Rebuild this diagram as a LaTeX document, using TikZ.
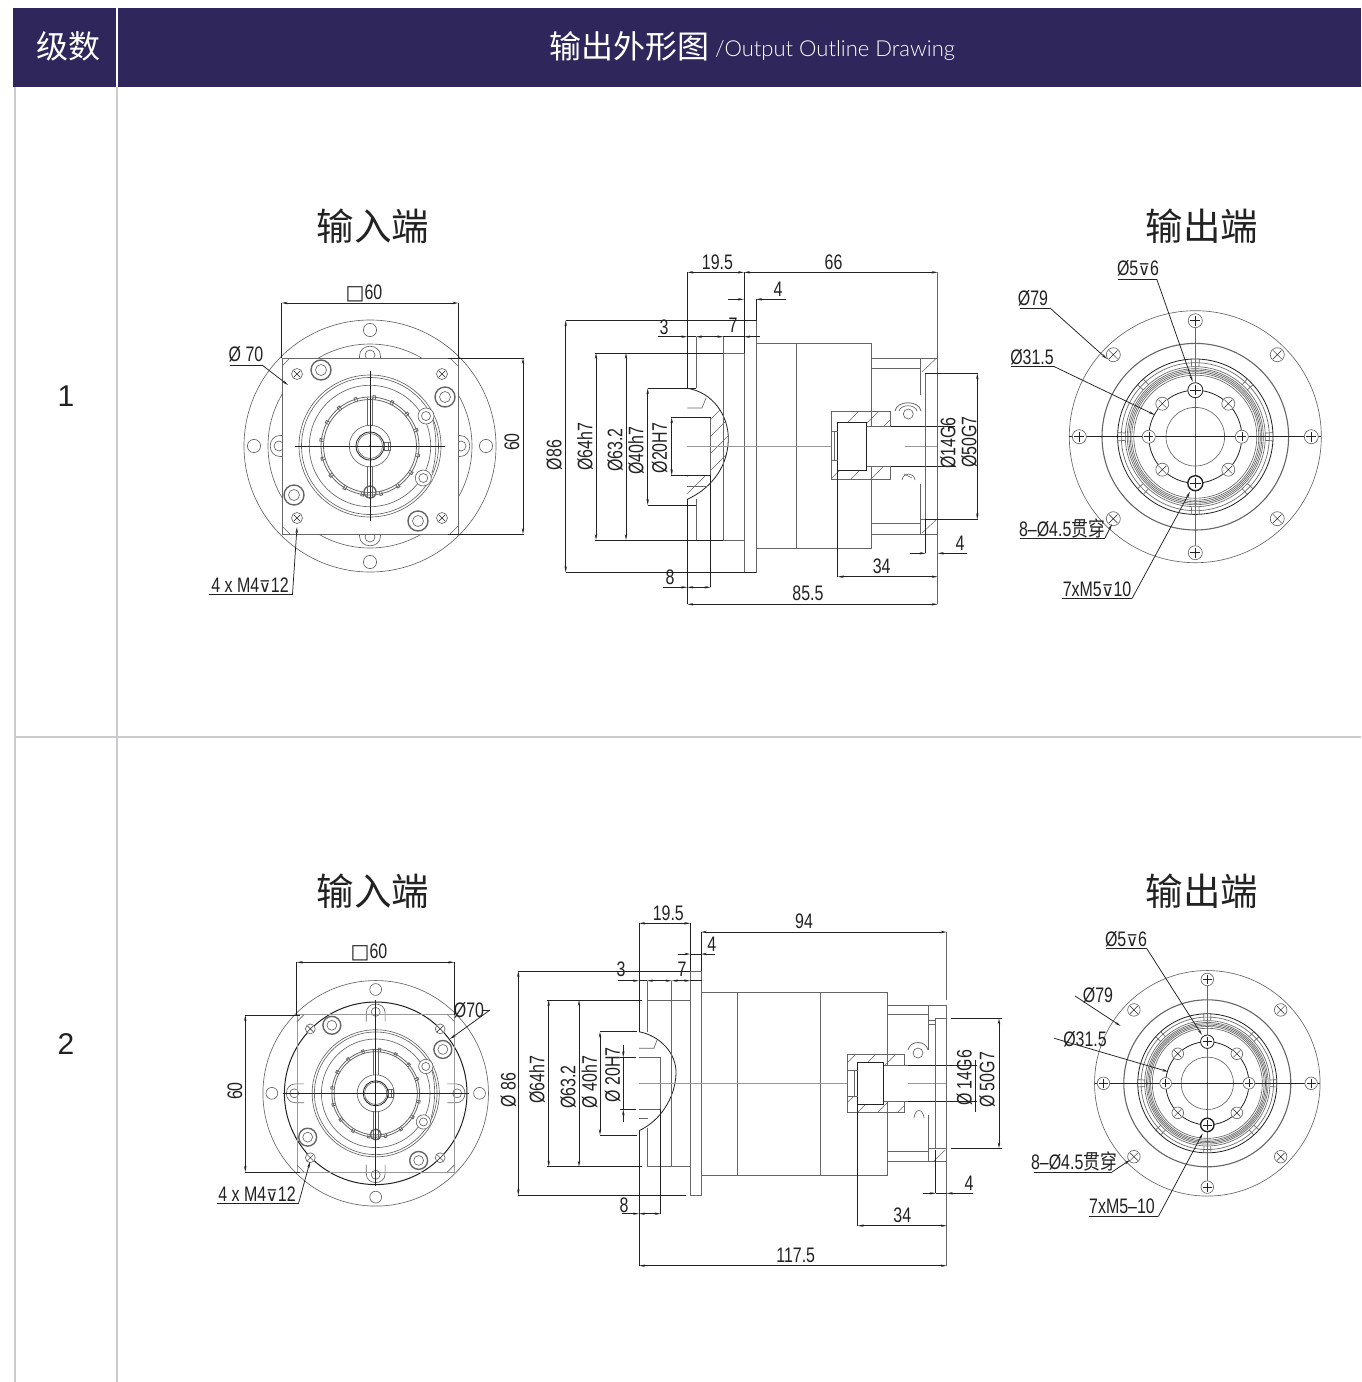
\documentclass[tikz,border=0pt]{standalone}
\usepackage{fontspec}
\usetikzlibrary{arrows.meta}
\setmainfont{Liberation Sans}
\newfontfamily\dimf[FakeStretch=0.76]{Liberation Sans}
\newfontfamily\symf{DejaVu Sans}
\newfontfamily\cjkf{Noto Sans CJK SC}
\newfontfamily\cjkdim[FakeStretch=0.8]{Noto Sans CJK SC}
\newfontfamily\headf{Lato Light}
\definecolor{headbg}{HTML}{2F265C}
\definecolor{gridc}{HTML}{CBCBCF}
\definecolor{dk}{HTML}{222222}
\definecolor{md}{HTML}{666666}
\definecolor{lt}{HTML}{999999}
\newcommand{\dep}{{\symf\fontsize{16}{16}\selectfont ⊽}}
\tikzset{
  x=1pt,y=-1pt,
  lab/.style={font=\dimf\fontsize{21}{21}\selectfont,text=dk,inner sep=0pt,anchor=center},
  title/.style={font=\cjkf\fontsize{37.5}{37.5}\selectfont,text=dk,inner sep=0pt},
  dl/.style={draw=dk,line width=0.75pt},
  dim/.style={dl,{Stealth[length=6pt,width=2.4pt]}-{Stealth[length=6pt,width=2.4pt]}},
  arr/.style={dl,-{Stealth[length=6pt,width=2.4pt]}},
  ra/.style={dl,{Stealth[length=6pt,width=2.4pt]}-},
  ex/.style={draw=dk,line width=0.65pt},
  thin g/.style={draw=md,line width=0.65pt},
  thin l/.style={draw=lt,line width=0.5pt},
  mid/.style={draw=dk,line width=0.8pt},
  fat/.style={draw=dk,line width=1.4pt},
  hat/.style={draw=md,line width=0.5pt},
}
% small tapped hole with a cross
\newcommand{\xhole}[3]{\begin{scope}[shift={(#1,#2)}]
  \fill[white] (0,0) circle[radius=#3];
  \draw[thin g] (0,0) circle[radius=#3];
  \draw[mid,line width=.5pt] (-.6*#3,-.6*#3) -- (.6*#3,.6*#3) (-.6*#3,.6*#3) -- (.6*#3,-.6*#3);
\end{scope}}
\newcommand{\phole}[4][thin g]{\begin{scope}[shift={(#2,#3)}]
  \fill[white] (0,0) circle[radius=#4];
  \draw[#1] (0,0) circle[radius=#4];
  \draw[mid,line width=.6pt] (-.7*#4,0) -- (.7*#4,0) (0,-.7*#4) -- (0,.7*#4);
\end{scope}}
\newcommand{\screw}[2]{\begin{scope}[shift={(#1,#2)}]
  \fill[white] (0,0) circle[radius=10];
  \draw[fat,draw=md] (0,0) circle[radius=10];
  \draw[thin g] (0,0) circle[radius=5.5];
\end{scope}}
% input end view: cx cy scale squarefill crosshalf
\newcommand{\inview}[5]{\begin{scope}[shift={(#1,#2)},scale=#3]
  \draw[thin g] (0,0) circle[radius=126];
  \foreach \a in {0,90,180,270}{
    \draw[thin g] (\a:116) circle[radius=6.6];
    \begin{scope}[rotate=\a]
      \draw[thin g] (80,-10.5) -- (90,-10.5) .. controls (103,-10.5) and (103,10.5) .. (90,10.5) -- (80,10.5);
      \draw[thin g] (91,0) circle[radius=5];
    \end{scope}}
  #4
  \draw[thin g] (-88,-80) -- (-80,-88) (88,-80) -- (80,-88) (-88,80) -- (-80,88) (88,80) -- (80,88);
  \foreach \r in {71,68.5,60.7}{\draw[thin g] (0,0) circle[radius=\r];}
  \draw[mid,draw=md] (0,0) circle[radius=49];
  \draw[mid,draw=md] (0,0) circle[radius=46.5];
  \foreach \a in {11,33,...,360}{\draw[mid,draw=md] (\a-1.5:46.5) -- (\a-1.5:50.5) -- (\a+1.5:50.5) -- (\a+1.5:46.5);}
  \draw[thin g] (0,0) circle[radius=20.7];
  \draw[mid] (0,0) circle[radius=14];
  \draw[thin g] (0,0) circle[radius=12.5];
  \draw[thin g] (14,-4) rectangle (20,4);
  \draw[thin g] (18,-4) -- (18,4);
  \draw[thin g] (-2.5,-48) -- (-2.5,-20) (2.5,-48) -- (2.5,-20) (-2.5,20) -- (-2.5,46) (2.5,20) -- (2.5,46);
  \foreach \p/\q in {56/-30,53.3/32}{
    \fill[white] (\p,\q) circle[radius=8];
    \draw[thin g] (\p,\q) circle[radius=8];
    \draw[thin g] (\p,\q) circle[radius=4.5];}
  \draw[thin g] (63,-25) .. controls (67,-9) and (67,9) .. (62,27);
  \draw[fat,draw=md] (0,46) circle[radius=6];
  \draw[thin g] (-2.5,40) -- (-2.5,52) (2.5,40) -- (2.5,52);
  \screw{-49}{-76} \screw{75}{-49} \screw{48}{75} \screw{-76}{49}
  \xhole{-73}{-72}{5.5} \xhole{72}{-72}{5.5} \xhole{-73}{72}{5.5} \xhole{72}{72}{5.5}
  \draw[mid] (-#5,0) -- (#5,0) (0,-#5) -- (0,#5);
  \fill[dk] (0,0) circle[radius=1];
\end{scope}}
% output end view
\newcommand{\outview}[3]{\begin{scope}[shift={(#1,#2)},scale=#3]
  \draw[thin g] (0,0) circle[radius=126];
  \draw[fat,draw=md,line width=1.1pt] (0,0) circle[radius=93.3];
  \draw[mid] (0,0) circle[radius=77.7];
  \foreach \r in {70,68,66.5,65,63.5,61.5}{\draw[thin g] (0,0) circle[radius=\r];}
  \draw[thin g] (0,0) circle[radius=74];
  \foreach \a in {0,45,...,315}{\draw[thin g] (\a-3:70) -- (\a-3:77.7) (\a+3:70) -- (\a+3:77.7);}
  \draw[mid] (0,0) circle[radius=46.5];
  \draw[thin g] (0,0) circle[radius=29.3];
  \draw[dk,line width=1pt] (-126,0) -- (126,0);
  \draw[md,line width=1.4pt] (0,-116) -- (0,116);
  \phole{-116}{0}{7} \phole{116}{0}{7} \phole{0}{-116}{7} \phole{0}{116}{7}
  \xhole{-82}{-82}{7} \xhole{82}{-82}{7} \xhole{-82}{82}{7} \xhole{82}{82}{7}
  \phole{-46.5}{0}{6.5} \phole{46.5}{0}{6.5}
  \phole[mid]{0}{-46.5}{7.5} \phole[fat]{0}{46.5}{7.5}
  \xhole{-33}{-33}{6.5} \xhole{33}{-33}{6.5} \xhole{-33}{33}{6.5} \xhole{33}{33}{6.5}
  \fill[dk] (0,0) circle[radius=1];
\end{scope}}
\begin{document}
\begin{tikzpicture}
\useasboundingbox (0,0) rectangle (1361,1382);
\fill[white] (0,0) rectangle (1361,1382);
% table
\fill[headbg] (13,8) rectangle (1361,87);
\draw[white,line width=2pt] (117,8) -- (117,87);
\draw[gridc,line width=2.4pt] (15,87) -- (15,1382) (117,87) -- (117,1382) (15,737) -- (1361,737);
\node[font=\cjkf\fontsize{32}{32}\selectfont,text=white,inner sep=0pt] (h1) at (68,46) {级数};
\node[font=\cjkf\fontsize{32}{32}\selectfont,text=white,inner sep=0pt] (h2) at (629,46) {输出外形图};
\node[font=\headf\fontsize{22}{22}\selectfont,text=white,inner sep=0pt] (h3) at (835,51) {/Output Outline Drawing};
\node[font=\fontsize{30}{30}\selectfont,text=dk,inner sep=0pt] (n1) at (66,396) {1};
\node[font=\fontsize{30}{30}\selectfont,text=dk,inner sep=0pt] (n2) at (66,1044) {2};
\node[title] (t1) at (373,226) {输入端};
\node[title] (t2) at (1202,226) {输出端};
\node[title] (t3) at (373,891) {输入端};
\node[title] (t4) at (1202,891) {输出端};

%% ===== Stage 1 input =====
\inview{370}{446}{1}{%
  \draw[thin g] (0,0) circle[radius=102];
  \filldraw[fill=white,draw=md,line width=.65pt] (-88,-88) rectangle (88,88);}{75}
\node[lab] (a1) at (364,293) {{\symf\fontsize{20}{20}\selectfont □}60};
\draw[dim] (281.7,303) -- (458.3,303);
\draw[ex] (281.7,303) -- (281.7,358) (458.3,303) -- (458.3,358);
\node[lab] (a2) at (246,354) {Ø 70};
\draw[dl] (230,365) -- (262,365);
\draw[arr] (262,365) -- (288,385);
\node[lab,rotate=90] (a3) at (512,442) {60};
\draw[dim] (523,358) -- (523,534);
\draw[ex] (448,358) -- (524,358) (448,534) -- (524,534);
\node[lab] (a4) at (250,585) {4 x M4\dep 12};
\draw[dl] (209,594.5) -- (292.5,594.5);
\draw[arr] (292.5,594.5) -- (297,527);

%% ===== Stage 1 side =====
% dome hatch
\begin{scope}
 \clip (687.3,388.3) .. controls (712,392) and (729,415) .. (728.3,440) .. controls (727.5,470) and (708,490) .. (687.3,499.3) -- cycle;
 \foreach \k in {0,17,...,170}{\draw[hat] (620+\k,510) -- (620+\k+130,380);}
\end{scope}
\fill[white] (687.3,417.3) rectangle (710.7,475.3);
\fill[white] (687.3,391) rectangle (704,408);
\draw[thin g] (687.3,408) -- (702,408) -- (706,398);
\draw[thin g] (687.3,486.7) -- (706,486.7);
\draw[mid] (687.3,388.3) .. controls (712,392) and (729,415) .. (728.3,440) .. controls (727.5,470) and (708,490) .. (687.3,499.3);
\draw[thin g] (687.3,417.3) -- (710.7,417.3) -- (710.7,475.3) -- (687.3,475.3);
% housing
\draw[thin g] (744,320.3) rectangle (756,572.3);
\draw[thin g] (756,343.7) rectangle (871.7,548.7);
\draw[mid,draw=md] (796.7,343.7) -- (796.7,548.7);
\draw[thin g] (696,353) -- (744,353) -- (744,540) -- (696,540);
\draw[thin g] (723.3,336.7) -- (723.3,540);
\draw[thin g] (696,336.7) -- (696,388.3) (696,499) -- (696,540);
% centre line
\draw[thin l] (687.3,446.7) -- (890,446.7) (905,446.7) -- (937.7,446.7);
% output sleeve
\begin{scope}
 \clip (831.7,411.7) rectangle (890.7,479.3);
 \foreach \k in {0,20,...,140}{\draw[hat] (780+\k,490) -- (780+\k+80,410);}
\end{scope}
\fill[white] (866.7,426) rectangle (891,466.7);
\fill[white] (831.7,431.7) rectangle (837.7,460.7);
\filldraw[fill=white,draw=dk,line width=.8pt] (837.7,422.7) rectangle (866.7,470);
\draw[mid,draw=md] (890.7,426) -- (890.7,411.7) -- (831.7,411.7) -- (831.7,479.3) -- (890.7,479.3) -- (890.7,466.7);
\draw[thin g] (831.7,431.7) -- (837.7,431.7) (831.7,460.7) -- (837.7,460.7) (834,431.7) -- (834,460.7);
\draw[thin g] (866.7,426) -- (920.7,426) (866.7,466.7) -- (920.7,466.7);
\draw[ex] (890.7,426) -- (955,426) (890.7,466.7) -- (955,466.7);
\draw[thin g] (871.7,358.3) -- (920.7,358.3) (871.7,368.3) -- (920.7,368.3) (871.7,523.3) -- (920.7,523.3) (871.7,534) -- (920.7,534);
\draw[thin g] (920.7,358.3) -- (937.7,358.3) (920.7,358.3) -- (920.7,395) (920.7,484) -- (920.7,534) -- (937.7,534);
\draw[thin g] (925.7,373.3) -- (925.7,519.3) (925.7,373.3) -- (937.7,373.3) (925.7,519.3) -- (937.7,519.3) (920.7,519.3) -- (925.7,519.3);
\draw[hat] (922,372) -- (936,358.5) (922,533) -- (936,520);
\draw[thin g] (908.3,414) circle[radius=5];
\draw[mid,draw=md] (895,411) .. controls (897,400) and (919,400) .. (921,411);
\draw[thin g] (899,411) .. controls (901,404) and (915,404) .. (917,411);
\draw[thin g] (902,480) .. controls (903,472) and (914,472) .. (915,480);
\draw[thin g] (904,474) -- (912,478);
% dimensions
\draw[ex,line width=.9pt] (687.3,272) -- (687.3,388.3) (687.3,499) -- (687.3,604.3);
\draw[thin g] (937.7,272) -- (937.7,604.3);
\draw[ex,line width=.9pt] (744,272) -- (744,353);
\draw[ex] (756,299.3) -- (756,320.3);
\draw[dim] (687.3,272.3) -- (744,272.3);
\draw[dim] (744,272.3) -- (937.7,272.3);
\node[lab] (b1) at (717.5,262) {19.5};
\node[lab] (b2) at (833.5,262) {66};
\draw[arr] (728.3,299.3) -- (744,299.3);
\draw[ra] (756,299.3) -- (786,299.3);
\node[lab] (b3) at (778,289) {4};
\draw[ex] (565.7,320.3) -- (757,320.3) (565.7,572.3) -- (756,572.3);
\draw[dim] (565.7,320.3) -- (565.7,572.3);
\node[lab,rotate=90] (b4) at (554,455) {Ø86};
\draw[arr] (657.7,336.7) -- (687.3,336.7);
\draw[dim] (696,336.7) -- (723.3,336.7);
\draw[ra] (744,336.7) -- (760,336.7);
\draw[ex] (687.3,336.7) -- (696,336.7) (723.3,336.7) -- (744,336.7);
\node[lab] (b5) at (664,327) {3};
\node[lab] (b6) at (733,325) {7};
\draw[ex] (595,353) -- (723.3,353) (595,540) -- (723.3,540);
\draw[dim] (596,353) -- (596,540);
\draw[dim] (626,353) -- (626,540);
\node[lab,rotate=90] (b7) at (585,447) {Ø64h7};
\node[lab,rotate=90] (b8) at (615,450) {Ø63.2};
\draw[ex] (647.7,388.3) -- (696,388.3) (647.7,505) -- (696,505);
\draw[dim] (647.7,388.3) -- (647.7,505);
\node[lab,rotate=90] (b9) at (636,451) {Ø40h7};
\draw[ex] (670.7,417.3) -- (710.7,417.3) (670.7,475.3) -- (710.7,475.3);
\draw[dim] (671.7,417.3) -- (671.7,475.3);
\node[lab,rotate=90] (b10) at (659.5,448) {Ø20H7};
\draw[ex] (710.7,475.3) -- (710.7,587.3);
\draw[arr] (663,587.3) -- (687.3,587.3);
\draw[dim] (687.3,587.3) -- (710.7,587.3);
\node[lab] (b11) at (670,577) {8};
\draw[dim] (687.3,604.3) -- (937.7,604.3);
\node[lab] (b12) at (808,593.5) {85.5};
\draw[ex] (837.7,470) -- (837.7,576.7);
\draw[dim] (837.7,576.7) -- (937.7,576.7);
\node[lab] (b13) at (881.7,566) {34};
\draw[ex] (925.7,519.3) -- (925.7,553.3);
\draw[arr] (910,553.3) -- (925.7,553.3);
\draw[ra] (937.7,553.3) -- (966.7,553.3);
\node[lab] (b14) at (960,543.5) {4};
\draw[ex] (925,373.3) -- (977.5,373.3) (925,519.3) -- (977.5,519.3);
\draw[dim] (977.3,373.3) -- (977.3,519.3);
\node[lab,rotate=90] (b15) at (948,443) {Ø14G6};
\node[lab,rotate=90] (b16) at (969,442) {Ø50G7};

%% ===== Stage 1 output =====
\outview{1195.3}{436.7}{1}
\node[lab] (c1) at (1138,268) {Ø5\dep 6};
\draw[dl] (1118,279) -- (1156.7,279);
\draw[arr] (1156.7,279) -- (1192.7,381.7);
\node[lab] (c2) at (1033,298) {Ø79};
\draw[dl] (1020,308) -- (1050,308);
\draw[arr] (1050,308) -- (1107,359);
\node[lab] (c3) at (1032,357) {Ø31.5};
\draw[dl] (1011,366.5) -- (1054,366.5);
\draw[arr] (1054,366.5) -- (1155,415);
\node[lab] (c4) at (1062,528) {8–Ø4.5{\cjkdim 贯穿}};
\draw[dl] (1020,538) -- (1105,538);
\draw[arr] (1105,538) -- (1112,524);
\node[lab] (c5) at (1097,589) {7xM5\dep 10};
\draw[dl] (1062,598.5) -- (1132,598.5);
\draw[arr] (1132,598.5) -- (1190,491.7);

%% ===== Stage 2 input =====
\inview{375.7}{1093.3}{0.895}{%
  \draw[fat,draw=dk,line width=1pt] (0,0) circle[radius=102];
  \draw[thin l] (-88,-88) rectangle (88,88);}{93/0.895}
\node[lab] (d1) at (369,952) {{\symf\fontsize{20}{20}\selectfont □}60};
\draw[dim] (296.7,962.3) -- (454.3,962.3);
\draw[ex] (296.7,962.3) -- (296.7,1015) (454.3,962.3) -- (454.3,1015);
\node[lab] (d2) at (469,1010) {Ø70};
\draw[dl] (482,1010) -- (490,1010);
\draw[arr] (490,1010) -- (450,1039);
\node[lab,rotate=90] (d3) at (235,1091) {60};
\draw[dim] (245.3,1015) -- (245.3,1172);
\draw[ex] (245.3,1015) -- (300,1015) (245.3,1172) -- (300,1172);
\node[lab] (d4) at (257,1194) {4 x M4\dep 12};
\draw[dl] (217,1203.5) -- (298.5,1203.5);
\draw[arr] (298.5,1203.5) -- (310,1161.7);

%% ===== Stage 2 side =====
\draw[thin g] (639,1048.3) -- (654,1048.3) -- (657,1040);
\draw[thin g] (639,1118) -- (648,1118);
\draw[mid] (639,1031.7) .. controls (661,1036) and (676.5,1054) .. (676,1073) .. controls (675.5,1098) and (660,1121) .. (639,1130.7);
\draw[thin g] (639,1057.3) -- (660.7,1057.3) -- (660.7,1109.3) -- (639,1109.3);
\draw[thin g] (690.3,971) rectangle (701,1195.3);
\draw[thin g] (701,992) rectangle (887.7,1175);
\draw[thin g] (737.7,992) -- (737.7,1175);
\draw[mid,draw=md] (820.3,992) -- (820.3,1175);
\draw[thin g] (647,1000) -- (690.3,1000) -- (690.3,1166.7) -- (647,1166.7);
\draw[thin g] (671.7,980.7) -- (671.7,1166.7);
\draw[thin g] (647,980.7) -- (647,1031.7) (647,1128) -- (647,1166.7);
\draw[thin l] (639,1083.3) -- (865,1083.3) (908,1083.3) -- (946,1083.3);
\begin{scope}
 \clip (847.3,1054.3) rectangle (904.3,1112);
 \foreach \k in {0,20,...,140}{\draw[hat] (790+\k,1120) -- (790+\k+80,1040);}
\end{scope}
\fill[white] (883.7,1065) rectangle (905,1101.7);
\fill[white] (847.3,1070.7) rectangle (857.7,1096.7);
\filldraw[fill=white,draw=dk,line width=.8pt] (857.7,1062.7) rectangle (883.7,1104);
\draw[mid,draw=md] (904.3,1065) -- (904.3,1054.3) -- (847.3,1054.3) -- (847.3,1112) -- (904.3,1112) -- (904.3,1101.7);
\draw[thin g] (847.3,1070.7) -- (857.7,1070.7) (847.3,1096.7) -- (857.7,1096.7) (854,1070.7) -- (854,1096.7);
\draw[thin g] (883.7,1065) -- (928.3,1065) (883.7,1101.7) -- (928.3,1101.7);
\draw[ex] (908,1065) -- (977,1065) (908,1101.7) -- (977,1101.7);
\draw[thin g] (887.7,1005.3) -- (946.7,1005.3) -- (946.7,1161.7) -- (887.7,1161.7);
\draw[thin g] (887.7,1014) -- (928.3,1014) (887.7,1151.7) -- (928.3,1151.7);
\draw[thin g] (928.3,1005.3) -- (928.3,1020) -- (935.7,1020) (928.3,1161.7) -- (928.3,1148.3);
\draw[thin g] (928.3,1020) -- (928.3,1050) (928.3,1115) -- (928.3,1148.3);
\draw[thin g] (935.7,1018.3) -- (935.7,1148.3) (935.7,1018.3) -- (946.7,1018.3) (935.7,1148.3) -- (946.7,1148.3) (935.7,1024) -- (928.3,1024) (928.3,1148.3) -- (935.7,1148.3);
\draw[hat] (934,1161) -- (945,1150);
\draw[thin g] (918,1053) circle[radius=5];
\draw[mid,draw=md] (908,1050) .. controls (910,1040) and (926,1040) .. (928,1050);
\draw[thin g] (914,1118) .. controls (915,1108) and (923,1108) .. (924,1118);
% dimensions
\draw[ex,line width=.9pt] (639,923.3) -- (639,1031.7) (639,1130.7) -- (639,1265.7);
\draw[thin g] (946.7,932) -- (946.7,1000) (946.7,1162) -- (946.7,1265.7);
\draw[ex] (690.3,923.3) -- (690.3,971) (701,932) -- (701,971);
\draw[dim] (639,923.3) -- (690.3,923.3);
\node[lab] (e1) at (668.3,913) {19.5};
\draw[dim] (701,932) -- (946.7,932);
\node[lab] (e2) at (804,921) {94};
\draw[arr] (678.3,954) -- (690.3,954);
\draw[ra] (701,954) -- (715,954);
\draw[ex] (690.3,954) -- (701,954);
\node[lab] (e3) at (711.7,944) {4};
\draw[ex] (518.3,971) -- (690.3,971) (518.3,1195.3) -- (686,1195.3);
\draw[dim] (518.3,971) -- (518.3,1195.3);
\node[lab,rotate=90] (e4) at (508.3,1090) {Ø 86};
\draw[arr] (618.3,980.7) -- (639,980.7);
\draw[dim] (647,980.7) -- (671.7,980.7);
\draw[dim] (671.7,980.7) -- (690.3,980.7);
\draw[ex] (639,980.7) -- (647,980.7) (690.3,980.7) -- (702,980.7);
\node[lab] (e5) at (621,969.5) {3};
\node[lab] (e6) at (682,969.5) {7};
\draw[ex] (547,1000) -- (642,1000) (547,1166.7) -- (642,1166.7);
\draw[dim] (548.7,1000) -- (548.7,1166.7);
\draw[dim] (579,1000) -- (579,1166.7);
\node[lab,rotate=90] (e7) at (537,1080) {Ø64h7};
\node[lab,rotate=90] (e8) at (568,1087) {Ø63.2};
\draw[ex] (600,1031.7) -- (637,1031.7) (600,1135) -- (637,1135);
\draw[dim] (600,1031.7) -- (600,1135);
\node[lab,rotate=90] (e9) at (589.5,1082) {Ø 40h7};
\draw[ex] (620,1057.3) -- (636,1057.3) (620,1109.3) -- (636,1109.3);
\draw[arr] (623.3,1045) -- (623.3,1057.3);
\draw[ra] (623.3,1109.3) -- (623.3,1121.7);
\draw[ex] (623.3,1057.3) -- (623.3,1109.3);
\node[lab,rotate=90] (e10) at (612.5,1075) {Ø 20H7};
\draw[ex] (660.7,1109.3) -- (660.7,1213.7);
\draw[arr] (621.7,1213.7) -- (639,1213.7);
\draw[dim] (639,1213.7) -- (660.7,1213.7);
\node[lab] (e11) at (624,1205.5) {8};
\draw[dim] (639,1265.7) -- (946.7,1265.7);
\node[lab] (e12) at (795.7,1255) {117.5};
\draw[ex] (857.7,1104) -- (857.7,1225.7);
\draw[dim] (857.7,1225.7) -- (946.7,1225.7);
\node[lab] (e13) at (902.3,1215) {34};
\draw[ex] (935.7,1150) -- (935.7,1193.3);
\draw[arr] (923.3,1193.3) -- (935.7,1193.3);
\draw[ra] (946.7,1193.3) -- (972.7,1193.3);
\draw[ex] (935.7,1193.3) -- (946.7,1193.3);
\node[lab] (e14) at (969,1183.5) {4};
\draw[ex] (950.7,1018.3) -- (1001.7,1018.3) (950.7,1148.3) -- (1001.7,1148.3);
\draw[dim] (999,1018.3) -- (999,1148.3);
\node[lab,rotate=90] (e15) at (964.3,1078) {Ø 14G6};
\node[lab,rotate=90] (e16) at (987,1080) {Ø 50G7};
\draw[ex] (975,1060) -- (975,1112);

%% ===== Stage 2 output =====
\outview{1207.3}{1083.3}{0.895}
\node[lab] (f1) at (1126,939) {Ø5\dep 6};
\draw[dl] (1106,948.5) -- (1146.7,948.5);
\draw[arr] (1146.7,948.5) -- (1202,1035);
\node[lab] (f2) at (1098,995) {Ø79};
\draw[arr] (1075,996) -- (1120.7,1026);
\node[lab] (f3) at (1085,1039) {Ø31.5};
\draw[arr] (1054.3,1038.3) -- (1168.3,1071.7);
\node[lab] (f4) at (1074,1161) {8–Ø4.5{\cjkdim 贯穿}};
\draw[dl] (1034,1172) -- (1112,1172);
\draw[arr] (1112,1172) -- (1130,1160);
\node[lab] (f5) at (1122,1206) {7xM5–10};
\draw[dl] (1089,1216.5) -- (1158.3,1216.5);
\draw[arr] (1158.3,1216.5) -- (1202.7,1133.3);
\end{tikzpicture}
\end{document}
